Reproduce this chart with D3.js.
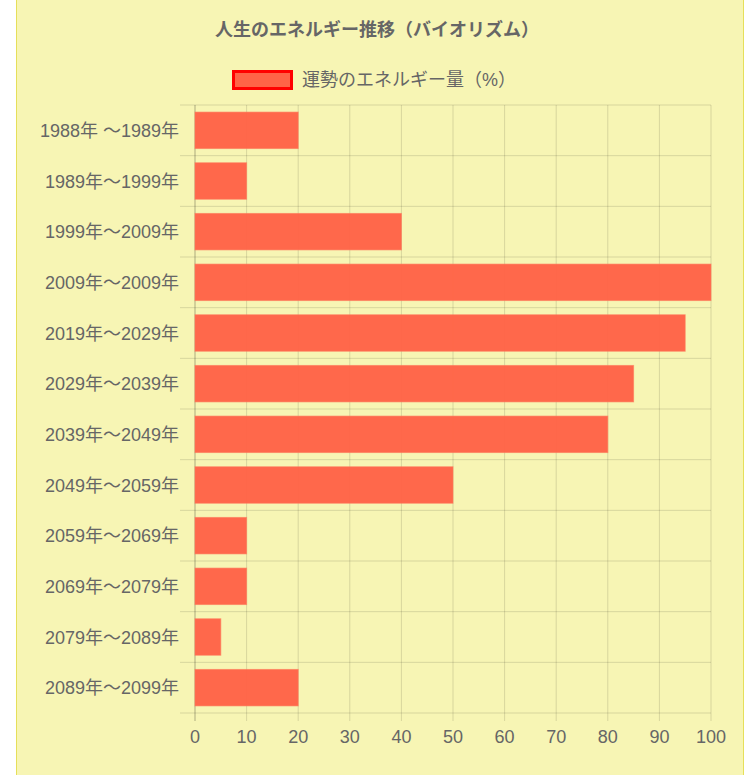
<!DOCTYPE html>
<html>
<head>
<meta charset="utf-8">
<script src="https://cdn.jsdelivr.net/npm/d3@7"></script>
<style>
  html, body { margin: 0; padding: 0; background: #fff; }
  #chart { position: absolute; left: 16px; top: 0; width: 728px; height: 775px;
           background: #f7f5b4; border-left: 1px solid #e6df5a; border-right: 1px solid #e6df5a; box-sizing: border-box; }
  text { font-family: "Liberation Sans", Arial, "Noto Sans CJK JP", sans-serif; }
</style>
</head>
<body>
<div id="chart"></div>
<script>
// chart data
const titleText = "人生のエネルギー推移（バイオリズム）";
const seriesName = "運勢のエネルギー量（%）";
const categories = [
  "1988年 〜1989年", "1989年〜1999年", "1999年〜2009年", "2009年〜2009年",
  "2019年〜2029年", "2029年〜2039年", "2039年〜2049年", "2049年〜2059年",
  "2059年〜2069年", "2069年〜2079年", "2079年〜2089年", "2089年〜2099年"
];
const values = [20, 10, 40, 100, 95, 85, 80, 50, 10, 10, 5, 20];
const xTicks = [0, 10, 20, 30, 40, 50, 60, 70, 80, 90, 100];

const width = 754, height = 775;
const margin = { top: 105, right: 43, bottom: 62, left: 195 };

const svg = d3.select("body").append("svg")
    .attr("width", width)
    .attr("height", height)
    .style("position", "absolute")
    .style("left", 0)
    .style("top", 0);

const x = d3.scaleLinear()
    .domain([0, 100])
    .range([margin.left, width - margin.right]);

const y = d3.scaleBand()
    .domain(categories)
    .range([margin.top, height - margin.bottom])
    .paddingInner(0)
    .paddingOuter(0);

// title
svg.append("text")
    .attr("x", 377)
    .attr("y", 36)
    .attr("text-anchor", "middle")
    .attr("fill", "#666")
    .attr("font-size", 18)
    .attr("font-weight", "bold")
    .text(titleText);

// legend
const legend = svg.append("g").attr("transform", "translate(232,70)");
legend.append("rect")
    .attr("x", 1.5).attr("y", 1.5)
    .attr("width", 58).attr("height", 17)
    .attr("fill", "#ff6347")
    .attr("stroke", "#ff0000")
    .attr("stroke-width", 3);
legend.append("text")
    .attr("x", 70)
    .attr("y", 16)
    .attr("fill", "#666")
    .attr("font-size", 18)
    .text(seriesName);

// vertical grid lines
svg.append("g")
    .selectAll("line")
    .data(xTicks)
    .join("line")
    .attr("x1", d => x(d)).attr("x2", d => x(d))
    .attr("y1", margin.top)
    .attr("y2", height - margin.bottom + 8)
    .attr("stroke", d => d === 0 ? "rgba(0,0,0,0.3)" : "rgba(0,0,0,0.13)")
    .attr("stroke-width", 1);

// horizontal grid lines (category boundaries)
const bounds = categories.map(c => y(c)).concat([y.range()[1]]);
svg.append("g")
    .selectAll("line")
    .data(bounds)
    .join("line")
    .attr("x1", margin.left - 15)
    .attr("x2", x(100))
    .attr("y1", d => d).attr("y2", d => d)
    .attr("stroke", "rgba(0,0,0,0.13)")
    .attr("stroke-width", 1);

// bars
const barH = y.bandwidth() * 0.72;
svg.append("g")
    .selectAll("rect")
    .data(values)
    .join("rect")
    .attr("x", x(0))
    .attr("y", (d, i) => y(categories[i]) + (y.bandwidth() - barH) / 2)
    .attr("width", d => x(d) - x(0))
    .attr("height", barH)
    .attr("fill", "rgba(255,99,71,0.97)")
    .attr("stroke", "rgba(255,120,90,0.6)")
    .attr("stroke-width", 1);

// y axis labels
svg.append("g")
    .selectAll("text")
    .data(categories)
    .join("text")
    .attr("x", margin.left - 16)
    .attr("y", d => y(d) + y.bandwidth() / 2 + 6.5)
    .attr("text-anchor", "end")
    .attr("fill", "#666")
    .attr("font-size", 18)
    .text(d => d);

// x axis labels
svg.append("g")
    .selectAll("text")
    .data(xTicks)
    .join("text")
    .attr("x", d => x(d))
    .attr("y", height - margin.bottom + 30)
    .attr("text-anchor", "middle")
    .attr("fill", "#666")
    .attr("font-size", 18)
    .text(d => d);
</script>
</body>
</html>
